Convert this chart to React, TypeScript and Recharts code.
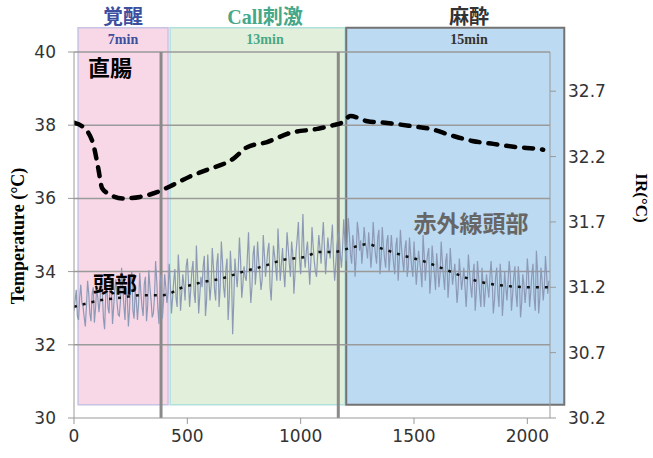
import React from "react";
import { LineChart, Line, XAxis, YAxis, ReferenceArea, ReferenceLine } from "recharts";

const timeTicks = [0, 500, 1000, 1500, 2000];
const tempTicks = [30, 32, 34, 36, 38, 40];
const irTicks = [30.2, 30.7, 31.2, 31.7, 32.2, 32.7];
const gridTemps = [32, 34, 36, 38, 40];

// 直腸 (left axis)
const rectalTimes = [0, 40, 84, 106, 124, 146, 216, 291, 366, 437, 512, 587, 702, 764, 852, 954, 1073, 1144, 1188, 1219, 1294, 1382, 1483, 1572, 1660, 1757, 1850, 1956, 2049, 2070];
const rectalTemps = [38.07, 37.95, 37.5, 36.86, 36.28, 36.15, 36.0, 36.04, 36.17, 36.37, 36.6, 36.78, 37.08, 37.4, 37.54, 37.79, 37.9, 38.0, 38.09, 38.25, 38.11, 38.06, 37.98, 37.9, 37.73, 37.57, 37.49, 37.4, 37.35, 37.33];

// 赤外線頭部 trend (right axis)
const trendTimes = [0, 115, 203, 305, 393, 481, 570, 658, 746, 834, 923, 1011, 1086, 1144, 1219, 1294, 1351, 1439, 1541, 1647, 1735, 1823, 1912, 2013, 2093];
const trendTemps = [31.05, 31.1, 31.12, 31.14, 31.14, 31.2, 31.24, 31.27, 31.32, 31.36, 31.41, 31.43, 31.47, 31.47, 31.5, 31.53, 31.5, 31.45, 31.4, 31.33, 31.27, 31.23, 31.21, 31.2, 31.2];

// 赤外線頭部 raw readings every 5 s (right axis)
const irStep = 5;
const irTemps = [
  31.02, 31.1, 31.18, 30.98, 30.95, 31.12, 31.22, 31.08, 31.05, 30.97, 30.9, 31.06, 31.25, 31.15, 31.0, 30.94, 31.15, 31.2, 30.93, 31.04,
  31.2, 31.12, 31.01, 31.1, 31.28, 31.16, 30.96, 30.88, 31.14, 31.22, 31.04, 31.0, 31.3, 31.18, 30.92, 31.05, 31.19, 31.26, 31.08, 30.99,
  30.98, 31.1, 31.35, 31.2, 31.06, 30.95, 31.2, 31.14, 30.9, 31.03, 31.26, 31.32, 31.02, 30.96, 31.18, 31.1, 30.95, 31.08, 31.31, 31.16,
  31.05, 30.98, 31.22, 31.28, 30.94, 31.06, 31.33, 31.2, 31.1, 30.97, 31.0, 31.12, 31.4, 31.25, 31.04, 30.92, 31.24, 31.3, 30.96, 31.1,
  31.3, 31.2, 31.08, 31.16, 31.38, 31.22, 31.0, 31.12, 31.25, 31.34, 31.12, 31.05, 31.45, 31.3, 31.02, 31.15, 31.3, 31.22, 31.1, 31.36,
  31.42, 31.25, 31.05, 31.18, 31.33, 31.4, 31.15, 31.08, 31.52, 31.3, 31.0, 31.14, 31.28, 31.2, 31.36, 31.44, 30.98, 31.1, 31.45, 31.26,
  31.1, 31.22, 31.5, 31.36, 31.18, 31.1, 31.38, 31.46, 31.05, 31.2, 31.55, 31.4, 31.2, 31.12, 31.34, 31.42, 30.95, 31.12, 31.48, 31.3,
  30.84, 31.1, 31.42, 31.3, 31.2, 31.35, 31.58, 31.4, 31.12, 31.22, 31.36, 31.28, 31.25, 31.44, 31.62, 31.3, 31.08, 31.2, 31.45, 31.52,
  31.22, 31.34, 31.55, 31.4, 31.3, 31.18, 31.26, 31.6, 31.45, 31.28, 31.38, 31.48, 31.54, 31.2, 31.1, 31.32, 31.52, 31.44, 31.35, 31.25,
  31.65, 31.45, 31.25, 31.38, 31.5, 31.32, 31.2, 31.4, 31.62, 31.5, 31.38, 31.28, 31.55, 31.46, 31.15, 31.3, 31.48, 31.58, 31.7, 31.42,
  31.3, 31.5, 31.76, 31.45, 31.35, 31.48, 31.55, 31.38, 31.22, 31.4, 31.66, 31.52, 31.4, 31.32, 31.28, 31.45, 31.6, 31.5, 31.38, 31.56,
  31.7, 31.5, 31.3, 31.44, 31.58, 31.48, 31.42, 31.55, 31.68, 31.4, 31.25, 31.38, 31.52, 31.6, 31.62, 31.45, 31.35, 31.5, 31.72, 31.55,
  31.4, 31.55, 31.73, 31.6, 31.45, 31.38, 31.6, 31.52, 31.28, 31.44, 31.7, 31.62, 31.48, 31.56, 31.38, 31.5, 31.66, 31.55, 31.5, 31.42,
  31.62, 31.5, 31.35, 31.48, 31.7, 31.55, 31.45, 31.38, 31.58, 31.64, 31.3, 31.42, 31.66, 31.52, 31.42, 31.35, 31.55, 31.6, 31.32, 31.45,
  31.6, 31.48, 31.38, 31.3, 31.52, 31.58, 31.25, 31.4, 31.64, 31.5, 31.4, 31.32, 31.5, 31.56, 31.28, 31.36, 31.58, 31.46, 31.35, 31.28,
  31.55, 31.4, 31.22, 31.34, 31.48, 31.4, 31.32, 31.2, 31.6, 31.45, 31.25, 31.38, 31.45, 31.5, 31.15, 31.28, 31.52, 31.4, 31.3, 31.18,
  31.46, 31.35, 31.2, 31.3, 31.55, 31.4, 31.28, 31.18, 31.4, 31.46, 31.12, 31.25, 31.5, 31.36, 31.22, 31.3, 31.38, 31.24, 31.08, 31.2,
  31.42, 31.3, 31.18, 31.26, 31.35, 31.2, 31.05, 31.22, 31.45, 31.32, 31.2, 31.12, 31.3, 31.38, 31.02, 31.15, 31.4, 31.28, 31.15, 31.05,
  31.35, 31.22, 31.05, 31.18, 31.3, 31.2, 31.12, 31.28, 31.4, 31.25, 31.0, 31.1, 31.28, 31.35, 31.15, 31.05, 31.38, 31.26, 30.98, 31.12,
  31.32, 31.2, 31.1, 31.25, 31.4, 31.3, 31.02, 31.14, 31.28, 31.36, 31.15, 31.05, 31.36, 31.25, 30.97, 31.08, 31.3, 31.22, 31.08, 31.18,
  31.42, 31.3, 31.05, 31.16, 31.3, 31.38, 31.12, 31.02, 31.48, 31.32, 31.0, 31.12, 31.35, 31.26, 31.1, 31.2, 31.44, 31.3, 31.15, 31.25,
];

// phases (seconds)
const phaseNames = ["覚醒", "Call刺激", "麻酔"];
const phaseLengths = ["7min", "13min", "15min"];
const phaseStarts = [18, 424, 1201];
const phaseEnds = [415, 1196, 2163];
const phaseMarkers = [384, 1166];

const rectalData = rectalTimes.map((t, i) => ({ t, v: rectalTemps[i] }));
const trendData = trendTimes.map((t, i) => ({ t, v: trendTemps[i] }));
const irData = irTemps.map((v, i) => ({ t: i * irStep, v }));

const phaseStyles = [
  { fill: "#f8d8e7", stroke: "#c8c2e4", strokeWidth: 1.5, color: "#3d4f9f", center: 123 },
  { fill: "#e2efda", stroke: "#b0e0dc", strokeWidth: 1.5, color: "#46a889", center: 265 },
  { fill: "#bcdaf1", stroke: "#737373", strokeWidth: 2, color: "#333333", center: 469 },
];

const tick = { fill: "#333", fontSize: 17, fontFamily: "DejaVu Sans" };
const cjk = '"Noto Sans CJK JP", sans-serif';
const serif = '"Liberation Serif", "Noto Sans CJK JP", serif';

function Text({ x, y, children, style }: any) {
  return (
    <div
      style={{
        position: "absolute",
        left: x,
        top: y,
        transform: "translate(-50%, -50%)",
        whiteSpace: "nowrap",
        lineHeight: 1,
        ...style,
      }}
    >
      {children}
    </div>
  );
}

export default function App() {
  return (
    <div style={{ position: "absolute", left: 0, top: 0, width: 653, height: 458, background: "#fff" }}>
      <LineChart width={653} height={458} margin={{ top: 52, right: 0, bottom: 0, left: 0 }}>
        <XAxis
          type="number"
          dataKey="t"
          domain={[0, 2100]}
          ticks={timeTicks}
          allowDataOverflow
          height={40}
          tick={tick}
          tickSize={6}
          tickMargin={6}
          stroke="#999"
        />
        <YAxis
          yAxisId="left"
          domain={[30, 40]}
          ticks={tempTicks}
          width={74}
          tick={tick}
          tickSize={6}
          tickMargin={12}
          stroke="#999"
        />
        <YAxis
          yAxisId="right"
          orientation="right"
          domain={[30.2, 33.0]}
          ticks={irTicks}
          width={103}
          tick={{ ...tick, textAnchor: "start" }}
          tickSize={6}
          tickMargin={12}
          stroke="#999"
        />
        {phaseNames.map((name, i) => (
          <ReferenceArea
            key={name}
            yAxisId="left"
            x1={phaseStarts[i]}
            x2={phaseEnds[i]}
            y1={30.36}
            y2={40.66}
            ifOverflow="visible"
            fill={phaseStyles[i].fill}
            fillOpacity={1}
            stroke={phaseStyles[i].stroke}
            strokeWidth={phaseStyles[i].strokeWidth}
          />
        ))}
        {gridTemps.map((v) => (
          <ReferenceLine key={v} yAxisId="left" y={v} stroke="#9a9a9a" strokeWidth={1.5} />
        ))}
        {phaseMarkers.map((t) => (
          <ReferenceLine key={t} yAxisId="left" x={t} stroke="#8a8a8a" strokeWidth={3} />
        ))}
        <Line
          yAxisId="right"
          data={irData}
          dataKey="v"
          type="linear"
          stroke="#8d9ab6"
          strokeWidth={1.2}
          dot={false}
          isAnimationActive={false}
        />
        <Line
          yAxisId="right"
          data={trendData}
          dataKey="v"
          type="monotone"
          stroke="#111"
          strokeWidth={2.5}
          strokeDasharray="3 6"
          dot={false}
          isAnimationActive={false}
        />
        <Line
          yAxisId="left"
          data={rectalData}
          dataKey="v"
          type="monotone"
          stroke="#000"
          strokeWidth={4.5}
          strokeDasharray="9 9"
          strokeLinecap="round"
          dot={false}
          isAnimationActive={false}
        />
      </LineChart>

      {phaseNames.map((name, i) => (
        <React.Fragment key={name}>
          <Text
            x={phaseStyles[i].center}
            y={17}
            style={{ color: phaseStyles[i].color, fontFamily: serif, fontWeight: 700, fontSize: 20 }}
          >
            {name}
          </Text>
          <Text
            x={phaseStyles[i].center}
            y={40}
            style={{ color: phaseStyles[i].color, fontFamily: serif, fontWeight: 700, fontSize: 14 }}
          >
            {phaseLengths[i]}
          </Text>
        </React.Fragment>
      ))}

      <Text x={110} y={66} style={{ fontFamily: cjk, fontWeight: 700, fontSize: 22, color: "#000" }}>
        直腸
      </Text>
      <Text x={115} y={282} style={{ fontFamily: cjk, fontWeight: 700, fontSize: 22, color: "#000" }}>
        頭部
      </Text>
      <Text x={471} y={222} style={{ fontFamily: cjk, fontWeight: 700, fontSize: 23, color: "#666" }}>
        赤外線頭部
      </Text>

      <Text
        x={18}
        y={236}
        style={{ fontFamily: serif, fontWeight: 700, fontSize: 18, color: "#000", transform: "translate(-50%, -50%) rotate(-90deg)" }}
      >
        Temperature (°C)
      </Text>
      <Text
        x={641}
        y={198}
        style={{ fontFamily: serif, fontWeight: 700, fontSize: 17, color: "#000", transform: "translate(-50%, -50%) rotate(90deg)" }}
      >
        IR(°C)
      </Text>
    </div>
  );
}
